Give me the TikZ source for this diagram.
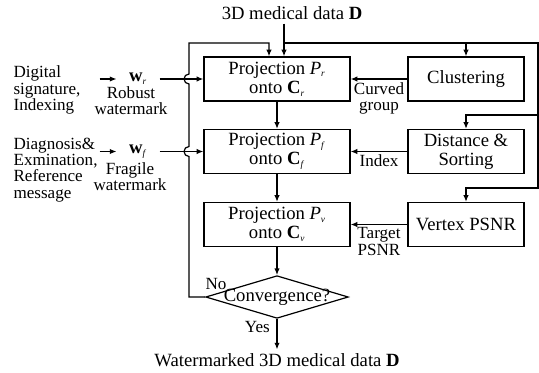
\documentclass[tikz,border=0pt]{standalone}
\usepackage{fontspec}
\setmainfont{Liberation Serif}
\usetikzlibrary{arrows.meta,shapes.geometric,calc}
\newcommand{\bigtxt}{\fontsize{14}{14.5}\selectfont}
\newcommand{\labtxt}{\fontsize{12.8}{12.2}\selectfont}
\newcommand{\subi}[1]{\textsubscript{\scriptsize\textit{#1}}}

\begin{document}
\begin{tikzpicture}[x=0.75pt,y=-0.75pt,line width=0.9pt,
  >={Latex[length=5pt,width=4pt]},
  txt/.style={inner sep=2.5pt,font=\bigtxt},
  box/.style={draw,minimum width=109.5pt,minimum height=33pt,inner sep=1pt,align=center,font=\bigtxt},
  sidebox/.style={box,minimum width=87pt},
  decision/.style={draw,diamond,aspect=3.3,minimum width=107pt,minimum height=32pt,inner sep=0pt,font=\bigtxt},
  wnode/.style={inner xsep=9pt,inner ysep=2pt,font=\bigtxt},
  lab/.style={align=center,inner sep=2pt,font=\labtxt},
  src/.style={align=left,text width=64pt,inner sep=0pt,anchor=west,font=\labtxt}]
\useasboundingbox (0,0) rectangle (539,372);
\node[txt] (top) at (292,13) {3D medical data \textbf{D}};
\node[box] (pr) at (277,79) {Projection \textit{P}\subi{r}\\onto \textbf{C}\subi{r}};
\node[box] (pf) at (277,151.5) {Projection \textit{P}\subi{f}\\onto \textbf{C}\subi{f}};
\node[box] (pv) at (277,224.5) {Projection \textit{P}\subi{v}\\onto \textbf{C}\subi{v}};
\node[sidebox] (clu) at (466,79) {Clustering};
\node[sidebox] (dist) at (466,151.5) {Distance \&\\Sorting};
\node[sidebox] (vps) at (466,224.5) {Vertex PSNR};
\node[decision] (conv) at (277,297) {\makebox[0pt]{Convergence?}};
\node[txt] (out) at (277,360) {Watermarked 3D medical data \textbf{D}};
\node[src] (sig) at (13,90) {Digital\\signature,\\Indexing};
\node[src] (diag) at (13,170) {Diagnosis\&\\Exmination,\\Reference\\message};
\node[wnode] (wr) at (138,79) {\textbf{w}\subi{r}};
\node[wnode] (wf) at (138,151.5) {\textbf{w}\subi{f}};
\node[lab] (rlab) at (131,101) {Robust\\watermark};
\node[lab] (flab) at (130,177) {Fragile\\watermark};
\coordinate (split) at (284,43);
\coordinate (ne) at (538,43);
\coordinate (b2) at (538,115);
\coordinate (b3) at (538,188);
\coordinate (fl) at (189,43);
\coordinate (fbin) at (269,43);
\draw[->] (sig.east |- wr.west) -- (wr.west);
\draw[->] (diag.east |- wf.west) -- (wf.west);
\draw[->] (wr) -- (pr);
\draw[->] (wf) -- (pf);
\draw[->] (pr) -- (pf);
\draw[->] (pf) -- (pv);
\draw[->] (pv) -- (conv);
\draw[->] (conv) -- node[lab,near start,left=3pt] {Yes} (out);
\draw[->] (clu) -- node[lab,below] {Curved\\group} (pr);
\draw[->] (dist) -- node[lab,below] {Index} (pf);
\draw[->] (vps) -- node[lab,below] {Target\\PSNR} (pv);
\draw[->] (top.south -| split) -- (split |- pr.north);
\draw[->] (split) -- (ne) -- (b3) -| (vps.north);
\draw[->] (b2) -| (dist.north);
\draw[->] (clu.north |- ne) -- (clu.north);
\draw[->] (conv.west) node[lab,above right,yshift=3pt,xshift=-2pt] {No} -- (conv.west -| fl)
  -- ($(fl |- pf.west)+(0,5)$) arc[start angle=90,end angle=270,radius=5]
  -- ($(fl |- pr.west)+(0,5)$) arc[start angle=90,end angle=270,radius=5]
  -- (fl) -- (fbin) -- (fbin |- pr.north);
\end{tikzpicture}
\end{document}
